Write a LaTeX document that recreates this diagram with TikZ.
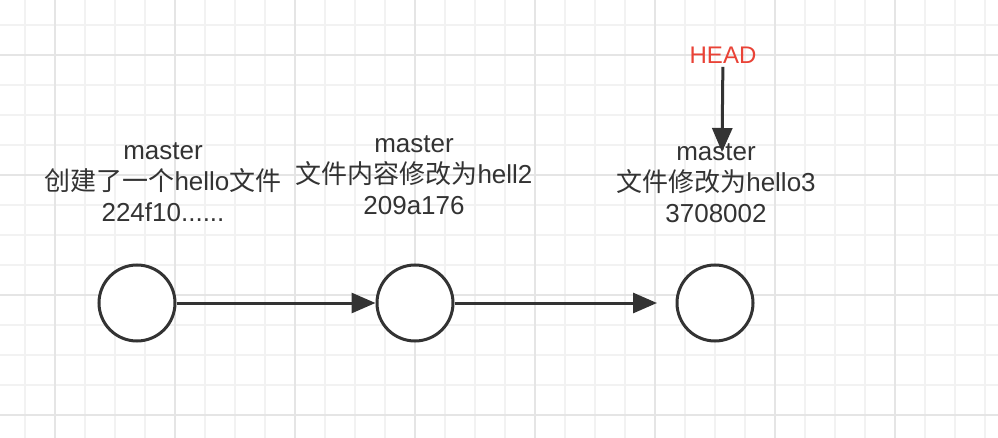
\documentclass[tikz,border=0pt]{standalone}
\usepackage{fontspec}
\setmainfont{Liberation Sans}
\newfontfamily\cjk{Noto Sans CJK SC}
\usetikzlibrary{arrows.meta}
\definecolor{ink}{RGB}{51,51,51}
\definecolor{headred}{RGB}{233,66,54}
\definecolor{gridminor}{RGB}{242,242,242}
\definecolor{gridmajor}{RGB}{229,229,229}
\begin{document}
\begin{tikzpicture}[x=1pt,y=-1pt,
  commit/.style={circle,draw=ink,line width=3pt,fill=white,inner sep=0pt,minimum size=76pt},
  msg/.style={align=center,inner sep=0pt,text=ink,font=\fontsize{26}{31}\selectfont},
  link/.style={draw=ink,line width=3pt,-{Triangle[length=24pt,width=20pt]}}]
            \useasboundingbox (0,0) rectangle (998,438);
            \fill[white] (0,0) rectangle (998,438);
            \foreach \gx in {25,55,...,985} \draw[gridminor,line width=1.2pt] (\gx,0) -- (\gx,438);
            \foreach \gy in {25,55,...,415} \draw[gridminor,line width=1.2pt] (0,\gy) -- (998,\gy);
            \foreach \gx in {55,175,...,895} \draw[gridmajor,line width=1.5pt] (\gx,0) -- (\gx,438);
            \foreach \gy in {55,175,...,415} \draw[gridmajor,line width=1.5pt] (0,\gy) -- (998,\gy);
            \node(c1)[commit] at (137,303){};
            \node(c2)[commit] at (415,303){};
            \node(c3)[commit] at (715,303){};
            \node(l1)[msg] at (163,182){master\\{\cjk 创建了一个}hello{\cjk 文件}\\224f10......};
            \node(l2)[msg] at (414,175){master\\{\cjk 文件内容修改为}hell2\\209a176};
            \node(l3)[msg] at (716,183){master\\{\cjk 文件修改为}hello3\\3708002};
            \node(head)[text=headred,font=\fontsize{24}{28}\selectfont] at (723,55){HEAD};
            \coordinate(tip3) at (657,303);
            \coordinate(htip) at (722,152);
            \draw[link] (c1) -- (c2);
            \draw[link] (c2) -- (tip3);
            \draw[link] (head) -- (htip);
        \end{tikzpicture}
\end{document}
